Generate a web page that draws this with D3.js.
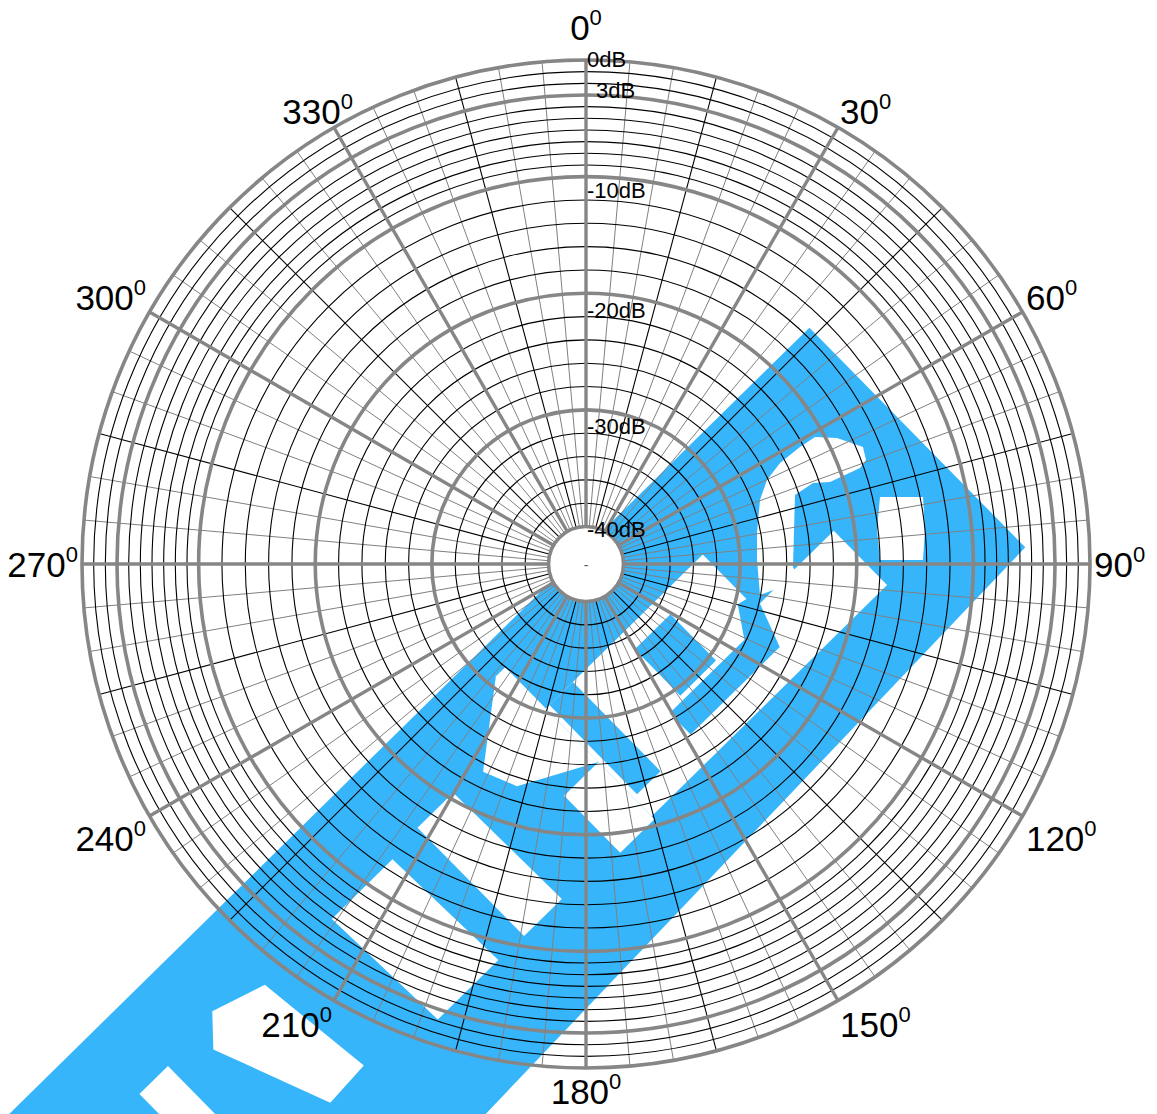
<!DOCTYPE html>
<html>
<head>
<meta charset="utf-8">
<script src="https://cdn.jsdelivr.net/npm/d3@7"></script>
<style>
  html, body { margin: 0; padding: 0; background: #ffffff; }
  svg { display: block; }
</style>
</head>
<body>
<svg id="chart" width="1157" height="1114"></svg>
<script>
// ---- chart data ----
const angleTicks = [0, 30, 60, 90, 120, 150, 180, 210, 240, 270, 300, 330];
const dbLabelValues = [0, -3, -10, -20, -30, -40];
const dbLabelTexts = ["0dB", "3dB", "-10dB", "-20dB", "-30dB", "-40dB"];
const majorRings = [0, -3, -10, -20, -30, -40];
const minorRings = [-1, -2, -4, -5, -6, -7, -8, -9, -12, -14, -16, -18,
                    -22, -24, -26, -28, -32, -34, -36, -38];
const radialStepDeg = 5;

// blue antenna artwork, in its own rotated frame: [along, across]
const bandOutline = [[-1000, -12], [325, -12], [325, 296], [-1000, 340]];
// copper-free gaps in the rotated frame
const bandGaps = [
  [[-690, 65], [-650, 65], [-650, 222], [-690, 222]],
  [[-580, 57], [-524, 75], [-510, 202], [-560, 205], [-606, 85]],
  [[-430, 75], [-345, 75], [-340, 221], [-425, 221]],
  [[-305, 70], [-255, 70], [-252, 222], [-305, 222]],
  [[-143, 17], [-130, 17], [-130, 150], [-205, 110], [-219, 76]],
  [[-178, 150], [-130, 150], [-130, 230], [-178, 230]],
  [[-130, 75], [90, 75], [90, 150], [200, 150], [200, 226], [-130, 226]]
];
// copper islands inside the gaps
const bandIslands = [
  [[-125, 75], [-92, 75], [-92, 200], [-125, 200]],
  [[-25, 95], [25, 95], [25, 160], [-25, 160]],
  [[-45, 165], [60, 165], [80, 135], [100, 140], [80, 195], [-45, 195]]
];
// upright openings around the loop, relative to the pole: [dx, dy]
const loopGaps = [
  [[229, -127], [251, -126], [277, -117], [280, -104], [274, -96], [244, -82], [227, -81],
   [209, -69], [207, 3], [214, 16], [174, 31], [171, -4], [171, -31], [174, -64],
   [181, -84], [194, -101], [214, -117]],
  [[294, -67], [337, -67], [339, -34], [337, -4], [294, -4], [291, -34]]
];

// ---- layout ----
const W = 1157, H = 1114;
const cx = 586, cy = 564;
const svg = d3.select("#chart");

const r = d3.scaleLinear().domain([-40, 0]).range([37.5, 504]);
const theta = d3.scaleLinear().domain([0, 360]).range([0, 2 * Math.PI]);
const gx = d3.scaleLinear().domain([0, 1]).range([cx, cx + 1]);
const gy = d3.scaleLinear().domain([0, 1]).range([cy, cy + 1]);
const band = d3.scaleLinear().domain([0, 1]).range([0, 1]);

const polar = (deg, rad) => [cx + rad * Math.sin(theta(deg)), cy - rad * Math.cos(theta(deg))];
const font = "'Liberation Sans', Arial, Helvetica, sans-serif";
const bandPath = pts => "M" + pts.map(p => band(p[0]) + "," + band(p[1])).join("L") + "Z";

svg.append("rect").attr("width", W).attr("height", H).attr("fill", "#ffffff");

// antenna artwork
const bandColor = "#36b5fb";
const art = svg.append("g").attr("transform", `translate(${cx},${cy}) rotate(-44.5)`);
art.append("path").attr("d", bandPath(bandOutline)).attr("fill", bandColor);
art.append("g").selectAll("path").data(bandGaps).join("path")
  .attr("d", bandPath).attr("fill", "#ffffff");
art.append("g").selectAll("path").data(bandIslands).join("path")
  .attr("d", bandPath).attr("fill", bandColor);
svg.append("g").selectAll("path").data(loopGaps).join("path")
  .attr("d", pts => "M" + pts.map(p => gx(p[0]) + "," + gy(p[1])).join("L") + "Z")
  .attr("fill", "#ffffff");

// white hub
svg.append("circle").attr("cx", cx).attr("cy", cy).attr("r", r(-40)).attr("fill", "#ffffff");

// radial spokes: thin grey every 5°, black at 15° + 30k, thick grey every 30°
const spokes = d3.range(0, 360, radialStepDeg);
const spokeStyle = a => a % 15 === 0 ? { c: "#000000", w: 1.1 } : { c: "#808080", w: 1 };
svg.append("g").selectAll("line").data(spokes.filter(a => a % 30 !== 0)).join("line")
  .attr("x1", a => polar(a, r(-40))[0]).attr("y1", a => polar(a, r(-40))[1])
  .attr("x2", a => polar(a, r(0))[0]).attr("y2", a => polar(a, r(0))[1])
  .attr("stroke", a => spokeStyle(a).c).attr("stroke-width", a => spokeStyle(a).w);

// minor rings
svg.append("g").selectAll("circle").data(minorRings).join("circle")
  .attr("cx", cx).attr("cy", cy).attr("r", d => r(d))
  .attr("fill", "none").attr("stroke", "#000000").attr("stroke-width", 1.1);

// major spokes
svg.append("g").selectAll("line").data(spokes.filter(a => a % 30 === 0)).join("line")
  .attr("x1", a => polar(a, r(-40))[0]).attr("y1", a => polar(a, r(-40))[1])
  .attr("x2", a => polar(a, r(0))[0]).attr("y2", a => polar(a, r(0))[1])
  .attr("stroke", "#868686").attr("stroke-width", 3.4);

// major rings
svg.append("g").selectAll("circle").data(majorRings).join("circle")
  .attr("cx", cx).attr("cy", cy).attr("r", d => r(d))
  .attr("fill", "none").attr("stroke", "#868686").attr("stroke-width", 3.6);

// dB labels along the 0° spoke
const dbNudge = { "0": 7, "-3": 3, "-10": 21, "-20": 25, "-30": 24, "-40": 10 };
const dbShift = { "-3": 9 };
svg.append("g").selectAll("text").data(dbLabelValues).join("text")
  .attr("x", d => cx + 1 + (dbShift[d] || 0))
  .attr("y", d => cy - r(d) + dbNudge[d])
  .attr("font-family", font)
  .attr("font-size", 22)
  .attr("fill", "#000")
  .text((d, i) => dbLabelTexts[i]);

// small centre mark
svg.append("text").attr("x", cx).attr("y", cy + 6)
  .attr("text-anchor", "middle")
  .attr("font-family", font)
  .attr("font-size", 14).attr("fill", "#555").text("-");

// angle labels with superscript degree mark, set just outside the rim
const fs = 35;
const labelNudgeX = { 330: 21 };
const angleG = svg.append("g").attr("font-family", font).attr("fill", "#000");
angleTicks.forEach(a => {
  const s = Math.sin(theta(a)), c = Math.cos(theta(a));
  let pad = 4;
  if (Math.abs(s) < 0.1) pad = c > 0 ? 20 : 11;
  const [px, py] = polar(a, r(0) + pad);
  const anchor = s > 0.1 ? "start" : s < -0.1 ? "end" : "middle";
  let base;
  if (c > 0.1) base = py;
  else if (c < -0.1) base = py + fs * 0.72 + (Math.abs(s) > 0.1 ? 8 : 0);
  else base = py + fs * 0.36;
  const t = angleG.append("text")
    .attr("x", px + (labelNudgeX[a] || 0)).attr("y", base)
    .attr("text-anchor", anchor)
    .attr("font-size", fs);
  t.append("tspan").text(a);
  t.append("tspan").attr("font-size", 22).attr("dy", -15).text("0");
});
</script>
</body>
</html>
